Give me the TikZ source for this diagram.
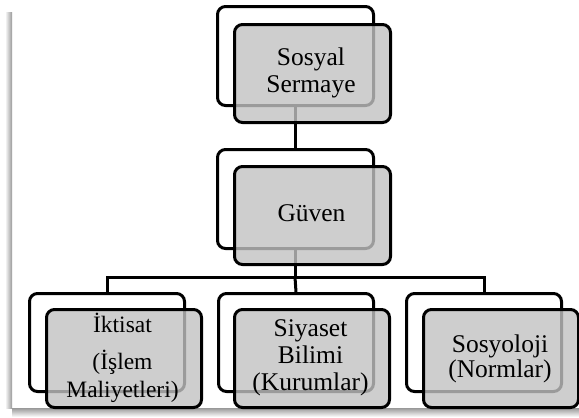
\documentclass[tikz,border=0pt]{standalone}
\usepackage{fontspec}
\setmainfont{Liberation Serif}
\begin{document}
\begin{tikzpicture}[x=1pt,y=-1pt,
  backbox/.style={draw=black, line width=3pt, rounded corners=8pt, fill=white,
    minimum width=156pt, minimum height=99pt, anchor=north west, inner sep=0pt},
  frontbox/.style={draw=black, line width=3pt, rounded corners=8pt, fill=black!24, fill opacity=0.8,
    minimum width=156pt, minimum height=98pt, anchor=north west, inner sep=0pt},
  label/.style={align=center, text=black, font=\fontsize{25.5}{27}\selectfont, inner sep=0pt},
  conn/.style={draw=black, line width=3pt}]
\useasboundingbox (0,0) rectangle (579,418);
\fill[white] (0,0) rectangle (579,418);
% page shadow
\shade[left color=white, right color=black!40] (5,12) rectangle (12,408);
\shade[top color=black!40, bottom color=white] (12,408) rectangle (579,417);
% back boxes
\node[backbox] (b1) at (216,5) {};
\node[backbox] (b2) at (216,148) {};
\node[backbox, minimum width=155pt, minimum height=98pt] (b3) at (28,292) {};
\node[backbox, minimum width=155pt, minimum height=98pt] (b4) at (217,292) {};
\node[backbox, minimum width=155pt, minimum height=98pt] (b5) at (405,292) {};
% connectors
\coordinate (h) at (295,277);
\draw[conn] (b1.south) -- (b2.north);
\draw[conn] (b2.south) -- (b2.south |- h);
\draw[conn] (b3.north) |- (h) -| (b5.north);
\draw[conn] (h) -- (b4.north);
% front boxes
\node[frontbox] (f1) at (233,23) {};
\node[frontbox] (f2) at (233,165) {};
\node[frontbox, minimum width=155pt] (f3) at (45,308) {};
\node[frontbox, minimum width=155pt] (f4) at (233,308) {};
\node[frontbox, minimum width=155pt] (f5) at (422,308) {};
% labels
\node[label] (t1) at (311,72.5) {Sosyal\\Sermaye};
\node[label] (t2) at (311.5,213.5) {Güven};
\node[label, font=\fontsize{23.5}{28}\selectfont] (t3) at (122.5,358) {İktisat\\[9pt](İşlem\\Maliyetleri)};
\node[label] (t4) at (310.5,358) {Siyaset\\Bilimi\\(Kurumlar)};
\node[label, font=\fontsize{25.5}{25.5}\selectfont] (t5) at (500,359) {Sosyoloji\\(Normlar)};
\end{tikzpicture}
\end{document}
